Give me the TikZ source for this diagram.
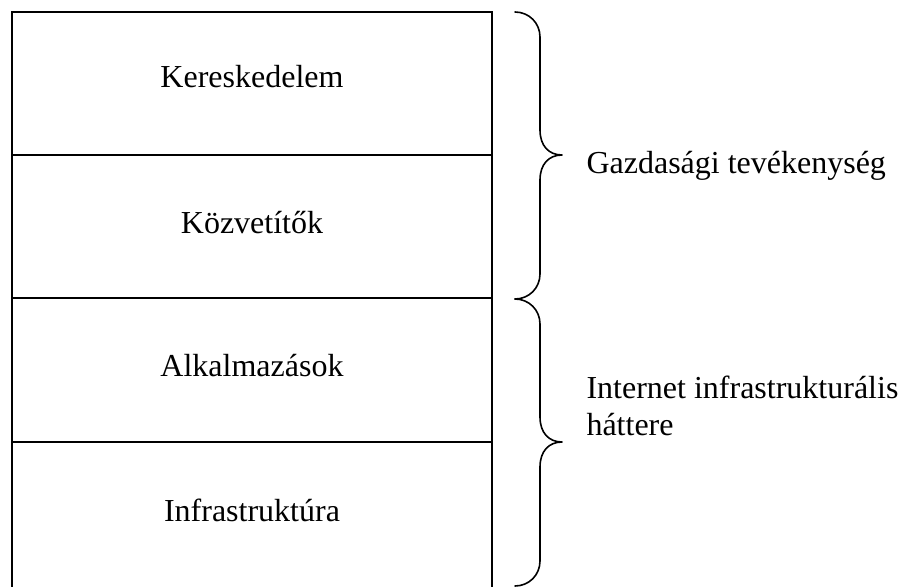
\documentclass[tikz,border=0pt]{standalone}
\usepackage{fontspec}
\setmainfont{Liberation Serif}
\begin{document}
\begin{tikzpicture}[x=1pt,y=-1pt,
  layer/.style={anchor=base,font=\fontsize{32}{37}\selectfont},
  side/.style={anchor=base west,align=left,font=\fontsize{32}{37}\selectfont},
  frame/.style={line width=1.7pt},
  bracepath/.style={line width=1.6pt,line cap=round,line join=round}]
\useasboundingbox (0,0) rectangle (899,586);
% layered box
\draw[frame] (12,590) -- (12,12) -- (492,12) -- (492,590);
\coordinate (d1l) at (12,155); \coordinate (d1r) at (492,155);
\coordinate (d2l) at (12,298); \coordinate (d2r) at (492,298);
\coordinate (d3l) at (12,442); \coordinate (d3r) at (492,442);
\draw[frame] (d1l) -- (d1r);
\draw[frame] (d2l) -- (d2r);
\draw[frame] (d3l) -- (d3r);
\node[layer] (ker) at (252,88) {Kereskedelem};
\node[layer] (koz) at (252,233) {Közvetítők};
\node[layer] (alk) at (252,376) {Alkalmazások};
\node[layer] (inf) at (252,521) {Infrastruktúra};
% braces
\coordinate (b1s) at (515,12);
\coordinate (b1t) at (562,155);
\coordinate (bm) at (515,299);
\coordinate (b2t) at (562,442);
\coordinate (b2e) at (515,586);
\draw[bracepath] (b1s) .. controls (529,12) and (540,23) .. (540,37)
  -- (540,130) .. controls (540,146) and (549,155) .. (b1t)
  .. controls (549,155) and (540,164) .. (540,180)
  -- (540,274) .. controls (540,288) and (529,299) .. (bm);
\draw[bracepath] (bm) .. controls (529,299) and (540,310) .. (540,324)
  -- (540,417) .. controls (540,433) and (549,442) .. (b2t)
  .. controls (549,442) and (540,451) .. (540,467)
  -- (540,561) .. controls (540,575) and (529,586) .. (b2e);
\node[side] (gaz) at (583,173) {Gazdasági tevékenység};
\node[side] (int) at (583,435) {Internet infrastrukturális\\háttere};
\end{tikzpicture}
\end{document}
